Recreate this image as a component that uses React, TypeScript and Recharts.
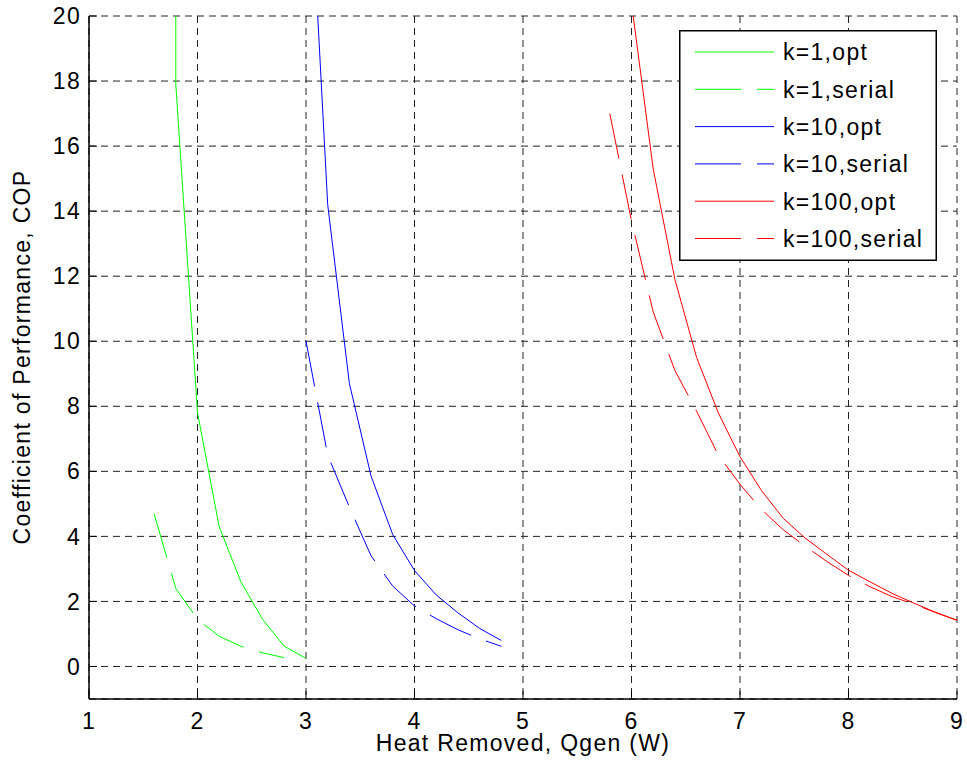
import { LineChart, Line, XAxis, YAxis, CartesianGrid, Legend, Label } from 'recharts';

const X_TICKS = [1, 2, 3, 4, 5, 6, 7, 8, 9];
const Y_TICKS = [0, 2, 4, 6, 8, 10, 12, 14, 16, 18, 20];

// k=1
const K1_OPT_X = [1.8, 1.8, 2.0, 2.2, 2.4, 2.6, 2.8, 3.0];
const K1_OPT_Y = [26, 17.9, 7.8, 4.3, 2.6, 1.45, 0.62, 0.25];
const K1_SER_X = [1.6, 1.8, 2.0, 2.2, 2.4, 2.6, 2.8];
const K1_SER_Y = [4.7, 2.4, 1.45, 0.93, 0.62, 0.42, 0.27];

// k=10
const K10_OPT_X = [3.0, 3.2, 3.4, 3.6, 3.8, 4.0, 4.2, 4.4, 4.6, 4.8];
const K10_OPT_Y = [26.8, 14.2, 8.7, 5.85, 4.05, 2.95, 2.2, 1.65, 1.17, 0.8];
const K10_SER_X = [3.0, 3.2, 3.4, 3.6, 3.8, 4.0, 4.2, 4.4, 4.6, 4.8];
const K10_SER_Y = [10.0, 6.5, 4.9, 3.4, 2.47, 1.86, 1.47, 1.13, 0.85, 0.62];

// k=100
const K100_OPT_X = [6.0, 6.2, 6.4, 6.6, 6.8, 7.0, 7.2, 7.4, 7.6, 7.8, 8.0, 8.2, 8.4, 8.6, 8.8, 9.0];
const K100_OPT_Y = [20.4, 15.3, 11.9, 9.5, 7.8, 6.45, 5.4, 4.55, 3.95, 3.45, 2.96, 2.6, 2.25, 1.95, 1.67, 1.42];
const K100_SER_X = [5.8, 6.0, 6.2, 6.4, 6.6, 6.8, 7.0, 7.2, 7.4, 7.6, 7.8, 8.0, 8.2, 8.4, 8.6, 8.8, 9.0];
const K100_SER_Y = [17.0, 13.7, 10.9, 9.1, 7.85, 6.5, 5.6, 4.82, 4.2, 3.7, 3.23, 2.8, 2.45, 2.15, 1.92, 1.66, 1.42];

const toPoints = (xs: number[], ys: number[]) => xs.map((x, i) => ({ x, y: ys[i] }));

const SERIES = [
  { name: 'k=1,opt', color: '#00ff00', dashed: false, data: toPoints(K1_OPT_X, K1_OPT_Y) },
  { name: 'k=1,serial', color: '#00ff00', dashed: true, data: toPoints(K1_SER_X, K1_SER_Y) },
  { name: 'k=10,opt', color: '#0000ff', dashed: false, data: toPoints(K10_OPT_X, K10_OPT_Y) },
  { name: 'k=10,serial', color: '#0000ff', dashed: true, data: toPoints(K10_SER_X, K10_SER_Y) },
  { name: 'k=100,opt', color: '#ff0000', dashed: false, data: toPoints(K100_OPT_X, K100_OPT_Y) },
  { name: 'k=100,serial', color: '#ff0000', dashed: true, data: toPoints(K100_SER_X, K100_SER_Y) },
];

const FONT = '"Liberation Sans", Arial, Helvetica, sans-serif';
const LINE_DASH = '46 16';
const TEXT = { fill: '#000', fontSize: 23, fontFamily: FONT, letterSpacing: 1.3 };

function LegendBox() {
  return (
    <svg width={258} height={231} style={{ display: 'block' }}>
      <rect x={0.75} y={0.75} width={256.5} height={229.5} fill="#fff" stroke="#000" strokeWidth={1.5} />
      {SERIES.map((s, i) => {
        const cy = 22 + i * 37.3;
        return (
          <g key={s.name}>
            <line
              x1={16}
              x2={95}
              y1={cy}
              y2={cy}
              stroke={s.color}
              strokeWidth={1}
              strokeDasharray={s.dashed ? LINE_DASH : undefined}
            />
            <text x={104} y={cy + 8.3} {...TEXT}>
              {s.name}
            </text>
          </g>
        );
      })}
    </svg>
  );
}

export default function App() {
  return (
    <div style={{ width: 967, height: 774, position: 'relative', background: '#fff' }}>
      <style>{'body{margin:0}'}</style>
      <LineChart width={967} height={774} margin={{ top: 16, right: 10, bottom: 0, left: 0 }}>
        <CartesianGrid stroke="#222" strokeDasharray="7 5" strokeWidth={1} />
        <XAxis
          type="number"
          dataKey="x"
          domain={[1, 9]}
          ticks={X_TICKS}
          height={75}
          stroke="#000"
          axisLine={{ stroke: '#000', strokeWidth: 1.5 }}
          tickLine={{ stroke: '#000' }}
          tickSize={-8}
          tickMargin={22}
          tick={TEXT}
          interval={0}
        >
          <Label
            content={() => (
              <text x={523} y={751} textAnchor="middle" {...TEXT}>
                Heat Removed, Qgen (W)
              </text>
            )}
          />
        </XAxis>
        <XAxis
          xAxisId="top"
          orientation="top"
          type="number"
          dataKey="x"
          domain={[1, 9]}
          ticks={X_TICKS}
          height={0}
          axisLine={{ stroke: '#000', strokeWidth: 1.5 }}
          tickLine={{ stroke: '#000' }}
          tickSize={-8}
          tick={false}
          interval={0}
        />
        <YAxis
          type="number"
          domain={[-1, 20]}
          ticks={Y_TICKS}
          allowDataOverflow
          width={89}
          axisLine={{ stroke: '#000', strokeWidth: 1.5 }}
          tickLine={{ stroke: '#000' }}
          tickSize={-8}
          tickMargin={16}
          tick={TEXT}
          interval={0}
        >
          <Label
            content={() => (
              <text
                transform="translate(30,357) rotate(-90)"
                textAnchor="middle"
                {...TEXT}
              >
                Coefficient of Performance, COP
              </text>
            )}
          />
        </YAxis>
        <YAxis
          yAxisId="right"
          orientation="right"
          type="number"
          domain={[-1, 20]}
          ticks={Y_TICKS}
          allowDataOverflow
          width={0}
          axisLine={{ stroke: '#000', strokeWidth: 1.5 }}
          tickLine={{ stroke: '#000' }}
          tickSize={-8}
          tick={false}
          interval={0}
        />
        {SERIES.map((s) => (
          <Line
            key={s.name}
            data={s.data}
            dataKey="y"
            name={s.name}
            type="linear"
            stroke={s.color}
            strokeWidth={1}
            strokeDasharray={s.dashed ? LINE_DASH : undefined}
            dot={false}
            activeDot={false}
            isAnimationActive={false}
          />
        ))}
        <Legend
          layout="horizontal"
          verticalAlign="middle"
          align="center"
          content={<LegendBox />}
          wrapperStyle={{ position: 'absolute', left: 679, top: 30, width: 258, height: 231 }}
        />
      </LineChart>
    </div>
  );
}
